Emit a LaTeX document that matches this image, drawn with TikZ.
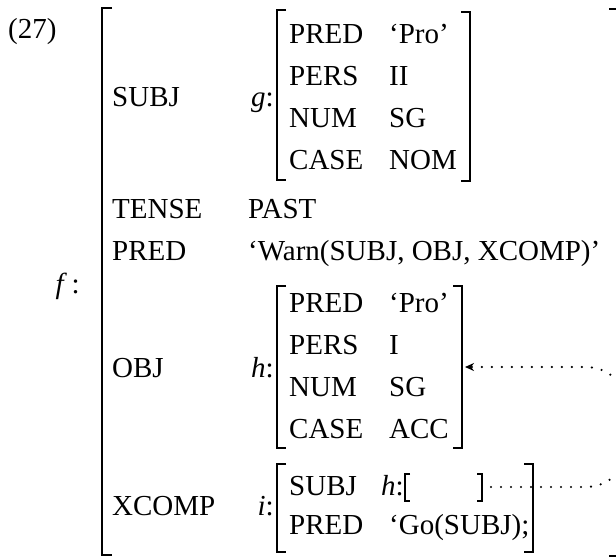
\documentclass[tikz,border=0pt]{standalone}
\usepackage{fontspec}
\setmainfont{Liberation Serif}
\usetikzlibrary{arrows.meta}

\begin{document}
\begin{tikzpicture}[x=1pt,y=-1pt,
		every node/.style={font=\fontsize{29}{33}\selectfont, inner sep=0pt},
		attr/.style={anchor=base west},
		fvar/.style={anchor=base east},
		brak/.style={line width=1.8pt},
		link/.style={line width=2.4pt, line cap=round, dash pattern=on 0pt off 10pt}]
		\useasboundingbox (0,0) rectangle (616,557);
		% example number and outer structure
		\node[attr] (num) at (8,38) {(27)};
		\node[fvar] (f) at (80,293) {\textit{f}\,:};
		\draw[brak] (112,8) -- (102,8) -- (102,555) -- (112,555);
		\draw[brak] (609,9) -- (618,9) -- (618,556) -- (609,556);
		% SUBJ
		\node[attr] (subj) at (112,106) {SUBJ};
		\node[fvar] (g) at (274,106) {\textit{g}:};
		\draw[brak] (286,10) -- (277,10) -- (277,180) -- (286,180);
		\draw[brak] (461,12) -- (470,12) -- (470,181) -- (461,181);
		\node[attr] (gpred) at (289,43) {PRED};  \node[attr] (gpredv) at (389,43) {‘Pro’};
		\node[attr] (gpers) at (289,85) {PERS};  \node[attr] (gpersv) at (389,85) {II};
		\node[attr] (gnum) at (289,127) {NUM};   \node[attr] (gnumv) at (389,127) {SG};
		\node[attr] (gcase) at (289,169) {CASE}; \node[attr] (gcasev) at (389,169) {NOM};
		% TENSE, PRED
		\node[attr] (tense) at (112,218) {TENSE}; \node[attr] (tensev) at (248,218) {PAST};
		\node[attr] (pred) at (112,260) {PRED};   \node[attr] (predv) at (248,260) {‘Warn(SUBJ, OBJ, XCOMP)’};
		% OBJ
		\node[attr] (obj) at (112,377) {OBJ};
		\node[fvar] (h) at (274,377) {\textit{h}:};
		\draw[brak] (286,286) -- (277,286) -- (277,448) -- (286,448);
		\draw[brak] (453,286) -- (462,286) -- (462,448) -- (453,448);
		\node[attr] (hpred) at (289,312) {PRED};  \node[attr] (hpredv) at (389,312) {‘Pro’};
		\node[attr] (hpers) at (289,354) {PERS};  \node[attr] (hpersv) at (389,354) {I};
		\node[attr] (hnum) at (289,396) {NUM};    \node[attr] (hnumv) at (389,396) {SG};
		\node[attr] (hcase) at (289,438) {CASE};  \node[attr] (hcasev) at (389,438) {ACC};
		\coordinate (hbrak) at (465,367);
		% XCOMP
		\node[attr] (xcomp) at (112,515) {XCOMP};
		\node[fvar] (i) at (274,515) {\textit{i}:};
		\draw[brak] (286,464) -- (277,464) -- (277,552) -- (286,552);
		\draw[brak] (524,464) -- (533,464) -- (533,552) -- (524,552);
		\node[attr] (isubj) at (289,495) {SUBJ};
		\node[attr] (ih) at (381,495) {\textit{h}:};
		\draw[brak] (410,474) -- (405,474) -- (405,501) -- (410,501);
		\draw[brak] (477,474) -- (482,474) -- (482,501) -- (477,501);
		\coordinate (ihend) at (491,487);
		\node[attr] (ipred) at (289,534) {PRED};  \node[attr] (ipredv) at (389,534) {‘Go(SUBJ);};
		% structure sharing
		\draw[link, -{Stealth[length=9pt,width=8pt]}] (ihend) -- (585,487)
			.. controls (650,487) and (650,367) .. (585,367) -- (hbrak);
	\end{tikzpicture}
\end{document}
